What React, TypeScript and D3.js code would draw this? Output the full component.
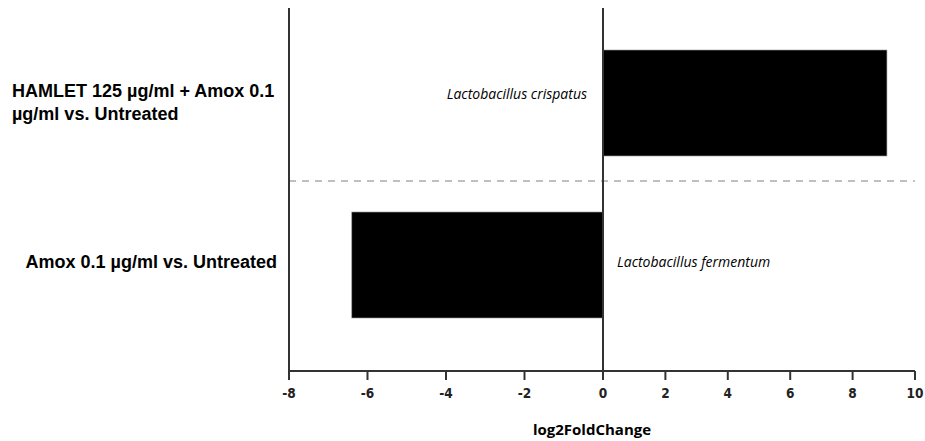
import * as d3 from "d3";

// comparisons (top to bottom), log2 fold change and the taxon shown for each
const comparisons = [
    ["HAMLET 125 µg/ml + Amox 0.1", "µg/ml vs. Untreated"],
    ["Amox 0.1 µg/ml vs. Untreated"],
];
const foldChanges = [9.1, -6.4];
const taxa = ["Lactobacillus crispatus", "Lactobacillus fermentum"];
const xTicks = [-8, -6, -4, -2, 0, 2, 4, 6, 8, 10];

const width = 925;
const height = 441;
const axisTop = 8;
const axisY = 371;

export default function App() {
    const keys = comparisons.map((c) => c.join(" "));

    // the original axis is split at zero: negative and positive sides use different unit widths
    const x = d3.scaleLinear().domain([-8, 0, 10]).range([289, 603, 915]);
    const y = d3
        .scaleBand<string>()
        .domain(keys)
        .range([22, 346])
        .paddingInner(0.346)
        .paddingOuter(0.173);

    const dividerY = (y(keys[0])! + y.bandwidth() + y(keys[1])!) / 2 - 3;

    return (
        <svg
            width={width}
            height={height}
            style={{ position: "absolute", left: 0, top: 0, background: "#fff" }}
        >
            {/* bars */}
            {keys.map((k, i) => {
                const v = foldChanges[i];
                return (
                    <rect
                        key={k}
                        x={Math.min(x(0), x(v))}
                        y={y(k)}
                        width={Math.abs(x(v) - x(0))}
                        height={y.bandwidth()}
                        fill="#000"
                        stroke="#888"
                        strokeWidth={0.6}
                    />
                );
            })}

            {/* dashed separator between comparisons */}
            <line
                x1={x(-8)}
                x2={x(10)}
                y1={dividerY}
                y2={dividerY}
                stroke="#aaa"
                strokeWidth={1.5}
                strokeDasharray="7,6"
            />

            {/* axes */}
            <line x1={x(-8)} x2={x(-8)} y1={axisTop} y2={axisY} stroke="#333" strokeWidth={2} />
            <line x1={x(0)} x2={x(0)} y1={axisTop} y2={axisY} stroke="#333" strokeWidth={2} />
            <line x1={x(-8) - 1} x2={x(10)} y1={axisY} y2={axisY} stroke="#333" strokeWidth={2} />
            {xTicks.map((t) => (
                <g key={t}>
                    <line x1={x(t)} x2={x(t)} y1={axisY} y2={axisY + 9} stroke="#333" strokeWidth={2} />
                    <text
                        x={x(t)}
                        y={axisY + 27}
                        textAnchor="middle"
                        fontFamily="'DejaVu Sans Condensed', 'Liberation Sans', sans-serif"
                        fontWeight="bold"
                        fontSize={13.5}
                        fill="#222"
                    >
                        {t}
                    </text>
                </g>
            ))}
            <text
                x={592}
                y={435}
                textAnchor="middle"
                fontFamily="'Open Sans', sans-serif"
                fontWeight="bold"
                fontSize={15}
                fill="#000"
            >
                log2FoldChange
            </text>

            {/* comparison labels */}
            <text
                x={12}
                y={97}
                fontFamily="'Liberation Sans', Arial, sans-serif"
                fontWeight="bold"
                fontSize={18}
                fill="#000"
            >
                {comparisons[0].map((line, i) => (
                    <tspan key={i} x={12} dy={i === 0 ? 0 : 23}>
                        {line}
                    </tspan>
                ))}
            </text>
            <text
                x={277}
                y={268}
                textAnchor="end"
                fontFamily="'Liberation Sans', Arial, sans-serif"
                fontWeight="bold"
                fontSize={18}
                fill="#000"
            >
                {comparisons[1][0]}
            </text>

            {/* taxon labels, placed on the opposite side of zero from each bar */}
            {keys.map((k, i) => {
                const v = foldChanges[i];
                return (
                    <text
                        key={k}
                        x={v > 0 ? x(0) - 16 : x(0) + 14}
                        y={i === 0 ? 99 : 267}
                        textAnchor={v > 0 ? "end" : "start"}
                        fontFamily="'Open Sans', sans-serif"
                        fontStyle="italic"
                        fontSize={14}
                        fill="#000"
                    >
                        {taxa[i]}
                    </text>
                );
            })}
        </svg>
    );
}
